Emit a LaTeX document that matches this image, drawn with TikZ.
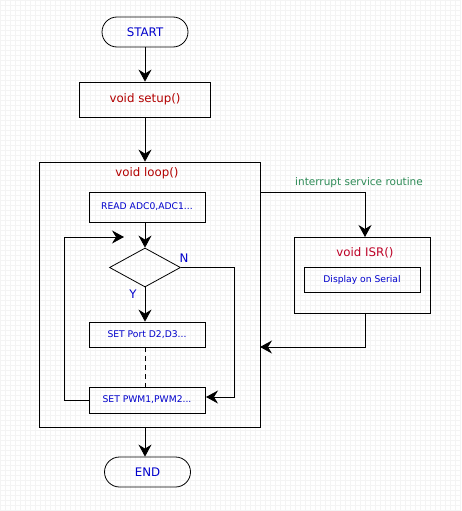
\documentclass[tikz,border=0pt]{standalone}
\usepackage{fontspec}
\setmainfont{DejaVu Sans}
\usetikzlibrary{arrows.meta,shapes.geometric,positioning}
\definecolor{tblue}{RGB}{0,0,204}
\definecolor{tred}{RGB}{178,0,0}
\definecolor{tgreen}{RGB}{46,139,87}
\definecolor{gridc}{RGB}{244,244,244}
\tikzset{
  box/.style={draw=black, line width=0.8pt, inner sep=0pt},
  bigtxt/.style={font=\fontsize{11.8}{13}\selectfont},
  term/.style={box, rounded corners=15pt, minimum width=86pt, minimum height=30pt, bigtxt, text=tblue},
  small/.style={font=\fontsize{9.2}{10}\selectfont, text=tblue},
  conn/.style={line width=0.8pt, -{Stealth[length=12pt,width=13pt,inset=4pt]}},
  plain/.style={line width=0.8pt},
}
\begin{document}
\begin{tikzpicture}[x=1pt,y=-1pt]
\useasboundingbox (0,0) rectangle (461,511);
\fill[white] (0,0) rectangle (461,511);
\draw[gridc, line width=0.4pt, step=5pt] (0,0) grid (461,511);
% nodes
\node[term] (start) at (145,32) {START};
\node[box, minimum width=131pt, minimum height=35pt, bigtxt, text=tred] (setup) at (145,99.5) {void setup()};
\node[box, minimum width=221pt, minimum height=265pt] (loop) at (149.5,294.5) {};
\node[bigtxt, text=tred] (looplbl) at (147,173) {void loop()};
\node[box, minimum width=116pt, minimum height=30pt, small] (read) at (147,207) {READ ADC0,ADC1...};
\node[draw, line width=0.8pt, diamond, aspect=1.8, minimum width=71pt, minimum height=39pt, inner sep=0pt] (dec) at (145,267.5) {};
\node[box, minimum width=116pt, minimum height=25pt, small] (port) at (147,334.5) {SET Port D2,D3...};
\node[box, minimum width=116pt, minimum height=26pt, small] (pwm) at (147,400) {SET PWM1,PWM2...};
\node[term] (end) at (147.5,472) {END};
\node[bigtxt, text=tblue] (nlbl) at (184,258) {N};
\node[bigtxt, text=tblue] (ylbl) at (133,294) {Y};
% ISR
\node[box, minimum width=136pt, minimum height=76pt] (isr) at (362,275) {};
\node[bigtxt, text=tred!85!magenta] (isrlbl) at (365,253) {void ISR()};
\node[box, minimum width=116pt, minimum height=25pt, small] (disp) at (362,279.5) {Display on Serial};
\node[font=\fontsize{10.5}{12}\selectfont, text=tgreen] (intlbl) at (359,183) {interrupt service routine};
% coordinates
\coordinate (fbtip) at (124,237);
\coordinate (fbcorner1) at (64,400);
\coordinate (fbcorner2) at (64,237);
\coordinate (ncorner1) at (234,267.5);
\coordinate (ncorner2) at (234,397);
\coordinate (ntip) at (206,397);
\coordinate (iout) at (260,192);
\coordinate (icorner) at (365,192);
\coordinate (itip) at (365,237);
\coordinate (rcorner1) at (365,347);
\coordinate (rtip) at (260,347);
% connectors
\draw[conn] (start.south) -- (setup.north);
\draw[conn] (setup.south) -- (setup.south |- loop.north);
\draw[conn] (read.south -| dec.north) -- (dec.north);
\draw[conn] (dec.south) -- (dec.south |- port.north);
\draw[plain, dash pattern=on 5pt off 4pt] (dec.south |- port.south) -- (dec.south |- pwm.north);
\draw[conn] (pwm.west |- fbcorner1) -- (fbcorner1) -- (fbcorner2) -- (fbtip);
\draw[conn] (dec.east) -- (ncorner1) -- (ncorner2) -- (ntip);
\draw[conn] (iout) -- (icorner) -- (itip);
\draw[conn] (itip |- isr.south) -- (rcorner1) -- (rtip);
\draw[conn] (dec.south |- loop.south) -- (dec.south |- end.north);
\end{tikzpicture}
\end{document}
